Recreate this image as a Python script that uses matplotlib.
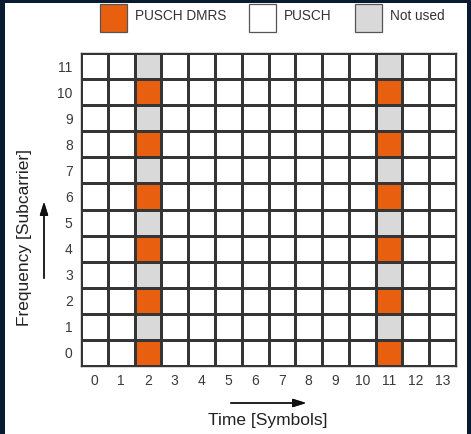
import matplotlib.pyplot as plt
import numpy as np
from matplotlib.colors import ListedColormap
from matplotlib.patches import Rectangle

plt.rcParams['font.family'] = ['Liberation Sans', 'DejaVu Sans']

# resource grid data
n_symbols = 14
n_subcarriers = 12
dmrs_symbols = [2, 11]
dmrs_subcarriers = [0, 2, 4, 6, 8, 10]
unused_subcarriers = [1, 3, 5, 7, 9, 11]
legend_labels = ['PUSCH DMRS', 'PUSCH', 'Not used']
state_colors = ['#e8600f', '#ffffff', '#d9d9d9']

# 0 = DMRS, 1 = PUSCH, 2 = not used
grid = np.ones((n_subcarriers, n_symbols), dtype=int)
for s in dmrs_symbols:
    for k in dmrs_subcarriers:
        grid[k, s] = 0
    for k in unused_subcarriers:
        grid[k, s] = 2

W, H = 471, 434
fig = plt.figure(figsize=(W / 100, H / 100), dpi=100)
fig.patch.set_facecolor('#0a1a30')


def fx(x):
    return x / W


def fy(y):
    return 1 - y / H


# white panel behind everything
fig.patches.append(Rectangle((fx(5), 0), fx(467) - fx(5), fy(3),
                             transform=fig.transFigure, facecolor='white',
                             edgecolor='none', zorder=-10))

left, top, right, bottom = 81, 53, 456, 366
ax = fig.add_axes([fx(left), fy(bottom), fx(right) - fx(left), fy(top) - fy(bottom)])
ax.set_zorder(1)
cmap = ListedColormap(state_colors)
ax.pcolormesh(np.arange(n_symbols + 1) - 0.5, np.arange(n_subcarriers + 1) - 0.5, grid,
              cmap=cmap, vmin=-0.5, vmax=2.5, edgecolors='#353535', linewidth=1.0)
ax.set_xlim(-0.5, n_symbols - 0.5)
ax.set_ylim(-0.5, n_subcarriers - 0.5)
ax.set_xticks(range(n_symbols))
ax.set_yticks(range(n_subcarriers))
ax.tick_params(length=0, labelsize=10, colors='#3a3a3a', pad=6)
for sp in ax.spines.values():
    sp.set_color('#353535')
    sp.set_linewidth(1.0)

# axis titles and arrows
fig.text(fx(268), fy(421), 'Time [Symbols]', ha='center', va='center',
         fontsize=12.5, color='#222222')
fig.text(fx(25), fy(237), 'Frequency [Subcarrier]', ha='center', va='center',
         rotation=90, fontsize=12.5, color='#222222')
arrow = dict(arrowstyle='-|>,head_length=0.8,head_width=0.25', color='#111111', lw=1.0)
fig.add_artist(plt.annotate('', xy=(fx(309), fy(403)), xytext=(fx(228), fy(403)),
                            xycoords='figure fraction', arrowprops=arrow))
fig.add_artist(plt.annotate('', xy=(fx(44), fy(199)), xytext=(fx(44), fy(281)),
                            xycoords='figure fraction', arrowprops=arrow))

# legend
legend_x = [100, 249, 355]
for lx, lab, col in zip(legend_x, legend_labels, state_colors):
    fig.patches.append(Rectangle((fx(lx), fy(32)), fx(27), fy(4) - fy(32),
                                 transform=fig.transFigure, facecolor=col,
                                 edgecolor='#555555', linewidth=0.9))
    fig.text(fx(lx + 35), fy(16), lab, ha='left', va='center', fontsize=9.8,
             color='#333333')

fig.savefig('out.png', dpi=100, facecolor=fig.get_facecolor())
